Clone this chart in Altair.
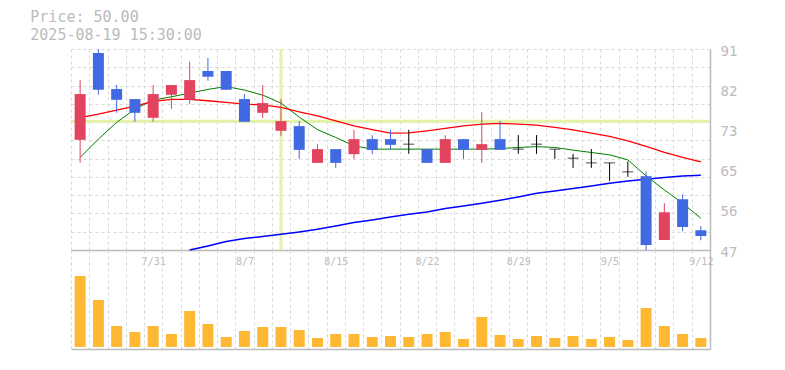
import json
import altair as alt
import pandas as pd

# ---------------- data ----------------
dates = ["7/25", "7/28", "7/29", "7/30", "7/31", "8/1", "8/4", "8/5", "8/6", "8/7",
         "8/8", "8/12", "8/13", "8/14", "8/15", "8/18", "8/19", "8/20", "8/21", "8/22",
         "8/25", "8/26", "8/27", "8/28", "8/29", "9/1", "9/2", "9/3", "9/4", "9/5",
         "9/8", "9/9", "9/10", "9/11", "9/12"]

open_ = [71.12, 90.12, 82.23, 80.04, 75.94, 80.98, 79.88, 86.18, 86.18, 80.04,
         77.03, 73.09, 74.12, 66.07, 69.08, 67.98, 71.27, 71.27, 70.17, 69.08,
         66.07, 71.27, 68.92, 71.27, 69.08, 70.17, 69.08, 67.10, 66.07, 66.07,
         64.10, 63.16, 49.19, 58.11, 51.32]
high = [84.20, 91.00, 83.11, 80.04, 83.11, 83.11, 88.22, 89.03, 86.18, 81.13,
        83.11, 80.04, 75.21, 70.17, 69.08, 73.31, 72.15, 73.31, 73.31, 69.08,
        72.15, 71.27, 77.19, 75.21, 72.15, 72.15, 69.08, 68.05, 69.08, 66.07,
        66.38, 64.19, 57.24, 59.21, 52.20]
low = [66.07, 80.98, 77.03, 75.06, 75.06, 77.91, 79.01, 84.05, 82.08, 75.06,
       75.94, 71.99, 66.95, 66.07, 64.98, 66.88, 67.98, 68.92, 68.05, 66.07,
       66.07, 66.95, 66.07, 68.92, 68.05, 68.05, 66.95, 64.98, 64.98, 62.13,
       63.00, 47.00, 49.19, 51.10, 49.13]
close = [81.13, 82.08, 79.88, 77.03, 81.13, 83.11, 84.20, 84.93, 82.08, 75.06,
         79.16, 75.21, 68.92, 69.08, 66.07, 71.27, 68.92, 70.02, 70.17, 66.07,
         71.27, 68.92, 70.17, 68.92, 69.08, 70.17, 69.08, 67.10, 66.07, 66.07,
         64.10, 48.10, 55.26, 52.04, 50.07]
volume = [71000, 47000, 21000, 15000, 21000, 13000, 36000, 23000, 10000, 16000,
          20000, 20000, 17000, 9000, 13000, 13000, 10000, 11000, 10000, 13000,
          15000, 8000, 30000, 12000, 8000, 11000, 9000, 11000, 8000, 10000,
          7000, 39000, 21000, 13000, 9000]

ma5 = [67.26, 71.27, 74.93, 77.85, 79.82, 80.54, 81.35, 82.16, 82.78, 82.01,
       80.91, 79.16, 76.09, 73.35, 71.64, 69.80, 69.08, 69.08, 69.08, 69.08,
       69.08, 69.08, 69.08, 69.19, 69.45, 69.62, 69.45, 68.86, 68.35, 67.83,
       66.73, 63.22, 60.15, 57.24, 53.95]
ma25 = [75.98, 76.75, 77.63, 78.50, 79.53, 79.97, 79.97, 79.67, 79.31, 78.94,
        78.79, 78.22, 77.25, 76.38, 75.28, 74.18, 73.35, 72.58, 72.65, 73.09,
        73.61, 74.18, 74.56, 74.71, 74.56, 74.34, 73.83, 73.31, 72.58, 71.86,
        70.90, 69.67, 68.35, 67.26, 66.29]
ma75 = [None, None, None, None, None, None, 47.00, 47.88, 48.84, 49.50,
        49.94, 50.44, 50.95, 51.54, 52.26, 53.01, 53.58, 54.23, 54.83, 55.33,
        56.08, 56.65, 57.24, 57.90, 58.62, 59.43, 59.93, 60.46, 61.03, 61.62,
        62.13, 62.50, 62.87, 63.22, 63.38]

label_dates = ["7/31", "8/7", "8/15", "8/22", "8/29", "9/5", "9/12"]
price_label_values = [47, 55.8, 64.6, 73.4, 82.2, 91]
price_grid_values = [47, 51, 55, 59, 63, 67, 71, 75, 79, 83, 87, 91]
price_domain = [47, 91]
volume_domain = [-2000, 97000]

cross_date = ["8/12"]
cross_price = [75.2]
title_lines = ["Price: 50.00", "2025-08-19 15:30:00"]

# ---------------- frames ----------------
df = pd.DataFrame({"date": dates, "open": open_, "high": high, "low": low,
                   "close": close, "volume": volume})
df["dir"] = ["up" if c > o else ("down" if c < o else "doji")
             for o, c in zip(open_, close)]
ma = pd.DataFrame({"date": dates, "MA5": ma5, "MA25": ma25, "MA75": ma75})
vcross = pd.DataFrame({"date": cross_date})
hcross = pd.DataFrame({"price": cross_price})

# ---------------- style ----------------
W = 639
FONT = "DejaVu Sans Mono"
GRID = "#d9d9d9"
AXIS = "#bbbbbb"
CROSS = "#e3f2a8"

label_expr = ("indexof(" + json.dumps(label_dates) +
              ", datum.value) >= 0 ? datum.value : ''")

xscale = alt.Scale(paddingInner=0, paddingOuter=0)
x_price = alt.X("date:O", sort=dates, scale=xscale, title=None,
                axis=alt.Axis(orient="bottom", grid=True, tickBand="extent",
                              gridColor=GRID, gridDash=[3, 3], gridWidth=1,
                              ticks=False, tickSize=0, domain=True,
                              domainColor=AXIS, domainWidth=1.5,
                              labelExpr=label_expr, labelAngle=0,
                              labelFont=FONT, labelFontSize=10,
                              labelColor=AXIS, labelPadding=6,
                              labelBaseline="top", labelOverlap=False))
x_vol = alt.X("date:O", sort=dates, scale=xscale, title=None,
              axis=alt.Axis(orient="bottom", grid=True, tickBand="extent",
                            gridColor=GRID, gridDash=[3, 3], gridWidth=1,
                            ticks=False, tickSize=0, domain=True,
                            domainColor=AXIS, domainWidth=1.5, labels=False))

yscale = alt.Scale(domain=price_domain, nice=False, zero=False)
grid_axis = alt.Axis(orient="left", grid=True, values=price_grid_values,
                     gridColor=GRID, gridDash=[3, 3], gridWidth=1,
                     labels=False, ticks=False, domain=False, title=None)
label_axis = alt.Axis(orient="right", grid=False, values=price_label_values,
                      format=".0f", labelFont=FONT, labelFontSize=14,
                      labelColor=AXIS, labelPadding=10, labelOffset=2,
                      ticks=False, tickSize=0, domain=True, domainColor=AXIS,
                      domainWidth=1.5, title=None)

dir_color = alt.Color("dir:N",
                      scale=alt.Scale(domain=["up", "down", "doji"],
                                      range=["#e2435e", "#4169e1", "#000000"]),
                      legend=None)

# crosshair (drawn beneath everything else) carries the labelled price axis
vrule = alt.Chart(vcross).mark_rule(color=CROSS, strokeWidth=3).encode(x=x_price)
hrule = alt.Chart(hcross).mark_rule(color=CROSS, strokeWidth=3).encode(
    y=alt.Y("price:Q", scale=yscale, axis=label_axis))
cross = alt.layer(vrule, hrule)

base = alt.Chart(df)
line5 = alt.Chart(ma).mark_line(color="#008000", strokeWidth=1).encode(
    x=x_price, y=alt.Y("MA5:Q", scale=yscale, axis=grid_axis))
line25 = alt.Chart(ma).mark_line(color="#ff0000", strokeWidth=1.3).encode(
    x=x_price, y=alt.Y("MA25:Q", scale=yscale, axis=grid_axis))
line75 = alt.Chart(ma).mark_line(color="#0000ff", strokeWidth=1.5).encode(
    x=x_price, y=alt.Y("MA75:Q", scale=yscale, axis=grid_axis))
wick = base.mark_rule(strokeWidth=1).encode(
    x=x_price, y=alt.Y("low:Q", scale=yscale, axis=grid_axis), y2="high:Q",
    color=dir_color)
body = base.mark_bar(size=11).encode(
    x=x_price, y=alt.Y("open:Q", scale=yscale, axis=grid_axis), y2="close:Q",
    color=dir_color)
doji = base.transform_filter("datum.open == datum.close").mark_tick(
    size=11, thickness=1, color="#000000").encode(
    x=x_price, y=alt.Y("close:Q", scale=yscale, axis=grid_axis))
main = alt.layer(line5, line25, line75, wick, body, doji)

price = alt.layer(cross, main).resolve_axis(y="independent").properties(
    width=W, height=201)

vol = alt.Chart(df).mark_bar(size=11, color="#ffb833").encode(
    x=x_vol,
    y=alt.Y("volume:Q", scale=alt.Scale(domain=volume_domain, nice=False,
                                        zero=False),
            axis=alt.Axis(orient="right", grid=False, labels=False,
                          ticks=False, tickSize=0, domain=True,
                          domainColor=AXIS, domainWidth=1.5, title=None))
).properties(width=W, height=99)

chart = alt.vconcat(price, vol, spacing=0, bounds="flush").properties(
    title=alt.TitleParams(text=title_lines, anchor="start", frame="group",
                          dx=-40.7, font=FONT, fontSize=15,
                          fontWeight="normal", color=AXIS, lineHeight=17.6,
                          offset=1),
    padding={"left": 22, "top": 2, "right": 5, "bottom": 5},
    background="white",
).configure_view(stroke=None)

chart.save("out.html", embed_options={"renderer": "svg", "actions": False})
